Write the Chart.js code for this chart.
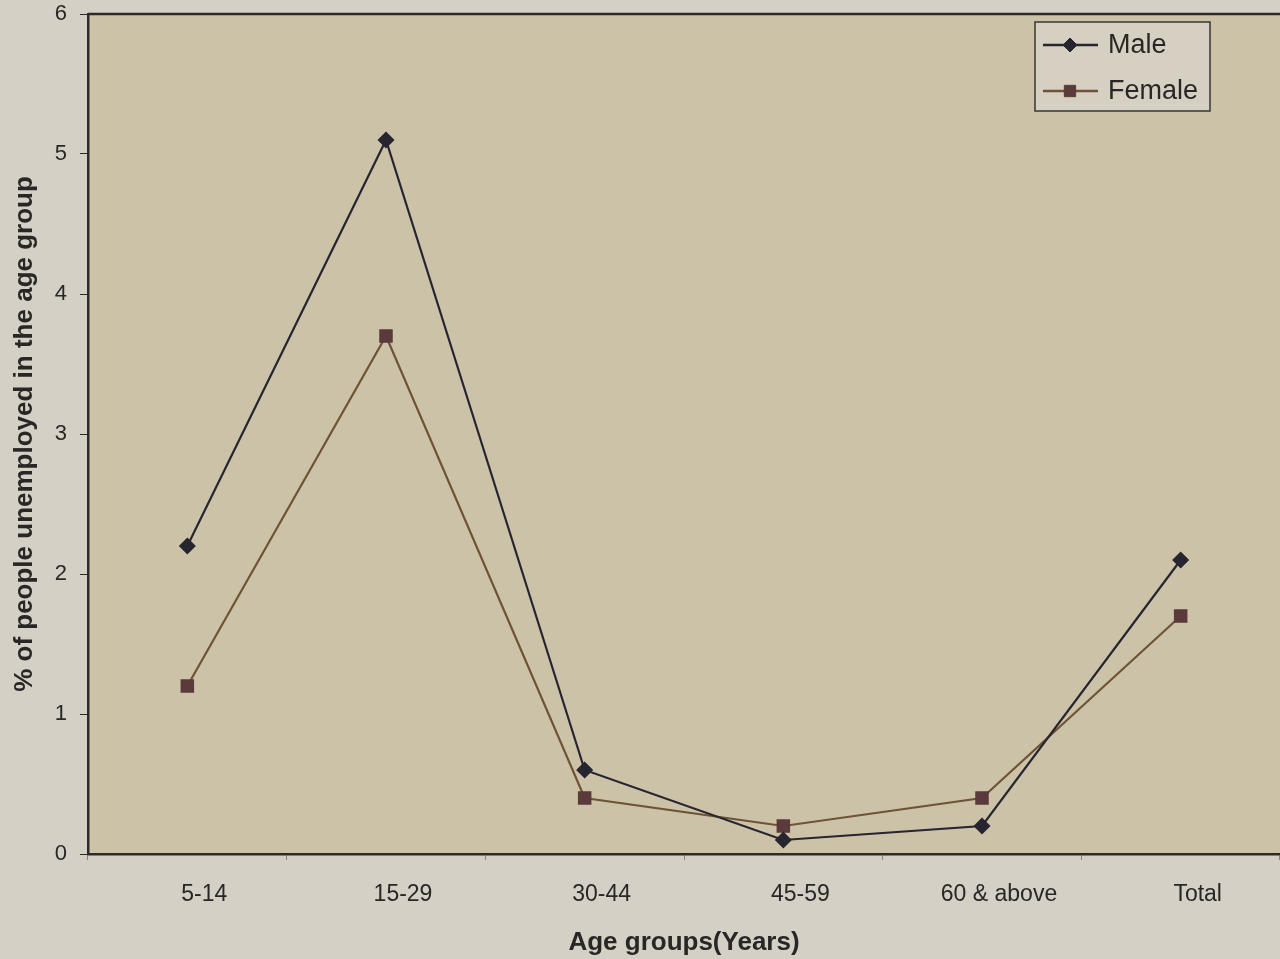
<!DOCTYPE html>
<html>
<head>
<meta charset="utf-8">
<script src="https://cdn.jsdelivr.net/npm/chart.js"></script>
<style>
    html, body { margin: 0; padding: 0; background: #d5d0c5; overflow: hidden; }
    #wrap { width: 1280px; height: 959px; position: relative; }
</style>
</head>
<body>
<div id="wrap"><canvas id="unemploymentChart"></canvas></div>
<script>
const ageGroups = ['5-14', '15-29', '30-44', '45-59', '60 & above', 'Total'];
const maleValues = [2.2, 5.1, 0.6, 0.1, 0.2, 2.1];
const femaleValues = [1.2, 3.7, 0.4, 0.2, 0.4, 1.7];
const yTicks = [0, 1, 2, 3, 4, 5, 6];

const FONT = '"Liberation Sans", Arial, sans-serif';
const AXIS_COLOR = '#2e2a2a';

// plot area fill + top border
const plotFrame = {
    id: 'plotFrame',
    beforeDraw(chart) {
        const { ctx, chartArea } = chart;
        ctx.save();
        ctx.fillStyle = '#cbc2a8';
        ctx.fillRect(chartArea.left, chartArea.top, chartArea.right - chartArea.left, chartArea.bottom - chartArea.top);
        ctx.restore();
    },
    afterDraw(chart) {
        const { ctx, chartArea } = chart;
        ctx.save();
        ctx.strokeStyle = AXIS_COLOR;
        ctx.lineWidth = 2.5;
        ctx.beginPath();
        ctx.moveTo(chartArea.left, chartArea.top);
        ctx.lineTo(chartArea.right, chartArea.top);
        ctx.stroke();
        ctx.restore();
    }
};

// boxed legend with line + marker samples
const boxedLegend = {
    id: 'boxedLegend',
    afterDraw(chart) {
        const ctx = chart.ctx;
        const box = { x: 1035, y: 22, w: 175, h: 89 };
        ctx.save();
        ctx.fillStyle = '#d6d0c2';
        ctx.fillRect(box.x, box.y, box.w, box.h);
        ctx.strokeStyle = '#3a3535';
        ctx.lineWidth = 1.5;
        ctx.strokeRect(box.x, box.y, box.w, box.h);

        const rows = [45, 91];
        chart.data.datasets.forEach((ds, i) => {
            const y = rows[i];
            ctx.strokeStyle = ds.borderColor;
            ctx.lineWidth = 2.5;
            ctx.beginPath();
            ctx.moveTo(1043, y);
            ctx.lineTo(1098, y);
            ctx.stroke();
            ctx.fillStyle = ds.pointBackgroundColor;
            ctx.strokeStyle = ds.pointBorderColor;
            ctx.lineWidth = 1;
            Chart.helpers.drawPoint(ctx, { pointStyle: ds.pointStyle, radius: ds.pointRadius, borderWidth: 1 }, 1070, y);
            ctx.fillStyle = '#2a2626';
            ctx.font = '27px ' + FONT;
            ctx.textBaseline = 'middle';
            ctx.textAlign = 'left';
            ctx.fillText(ds.label, 1108, y + 1);
        });
        ctx.restore();
    }
};

const ctx = document.getElementById('unemploymentChart').getContext('2d');
new Chart(ctx, {
    type: 'line',
    data: {
        labels: ageGroups,
        datasets: [
            {
                label: 'Male',
                data: maleValues,
                borderColor: '#27252f',
                borderWidth: 2.2,
                pointStyle: 'rectRot',
                pointRadius: 7,
                pointBackgroundColor: '#27252f',
                pointBorderColor: '#27252f',
                tension: 0
            },
            {
                label: 'Female',
                data: femaleValues,
                borderColor: '#6e5434',
                borderWidth: 2.2,
                pointStyle: 'rect',
                pointRadius: 8,
                pointBackgroundColor: '#5a3a3a',
                pointBorderColor: '#5a3a3a',
                tension: 0
            }
        ]
    },
    options: {
        responsive: true,
        maintainAspectRatio: false,
        animation: false,
        layout: { autoPadding: false, padding: { top: 14, right: 0, bottom: 0, left: 0 } },
        plugins: {
            legend: { display: false },
            tooltip: { enabled: false }
        },
        scales: {
            x: {
                offset: true,
                afterFit: function (scale) {
                    scale.height = 105;
                    scale.paddingLeft = 0;
                    scale.paddingRight = 0;
                },
                border: { color: AXIS_COLOR, width: 2.5 },
                grid: {
                    offset: true,
                    drawOnChartArea: false,
                    tickLength: 6,
                    tickColor: '#8a8580'
                },
                ticks: {
                    color: '#2a2626',
                    font: { family: FONT, size: 23 },
                    padding: 21,
                    labelOffset: 17,
                    maxRotation: 0
                },
                title: {
                    display: true,
                    text: 'Age groups(Years)',
                    color: '#2a2626',
                    font: { family: FONT, size: 26, weight: 'bold' },
                    padding: { top: 0, bottom: 1 }
                }
            },
            y: {
                min: yTicks[0],
                max: yTicks[yTicks.length - 1],
                afterFit: function (scale) {
                    scale.width = 88;
                    scale.paddingTop = 0;
                    scale.paddingBottom = 0;
                },
                border: { color: AXIS_COLOR, width: 2.5 },
                grid: {
                    drawOnChartArea: false,
                    tickLength: 8,
                    tickColor: AXIS_COLOR
                },
                ticks: {
                    stepSize: 1,
                    color: '#2a2626',
                    font: { family: FONT, size: 22 },
                    padding: 13
                },
                title: {
                    display: true,
                    text: '% of people unemployed in the age group',
                    color: '#2a2626',
                    font: { family: FONT, size: 26, weight: 'bold' },
                    padding: { top: 9, bottom: 0 }
                }
            }
        }
    },
    plugins: [plotFrame, boxedLegend]
});
</script>
</body>
</html>
